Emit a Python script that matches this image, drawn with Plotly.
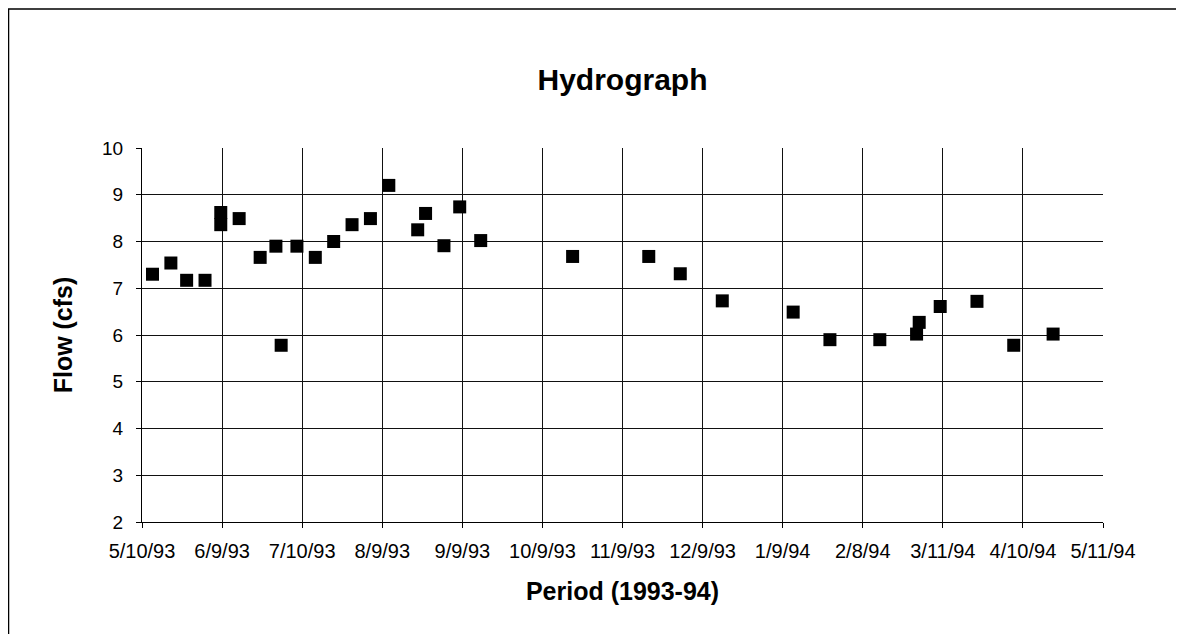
import plotly.graph_objects as go
import pandas as pd

# sample dates and measured flow
dates = ["1993-05-14", "1993-05-21", "1993-05-27", "1993-06-03", "1993-06-09", "1993-06-09",
         "1993-06-16", "1993-06-24", "1993-06-30", "1993-07-02", "1993-07-08", "1993-07-15",
         "1993-07-22", "1993-07-29", "1993-08-05", "1993-08-12", "1993-08-23", "1993-08-26",
         "1993-09-02", "1993-09-08", "1993-09-16", "1993-10-21", "1993-11-19", "1993-12-01",
         "1993-12-17", "1994-01-13", "1994-01-27", "1994-02-15", "1994-03-01", "1994-03-02",
         "1994-03-10", "1994-03-24", "1994-04-07", "1994-04-22"]
flow = [7.30, 7.54, 7.17, 7.17, 8.62, 8.36,
        8.49, 7.66, 7.90, 5.78, 7.90, 7.66,
        8.00, 8.36, 8.49, 9.20, 8.25, 8.60,
        7.91, 8.74, 8.02, 7.68, 7.68, 7.31,
        6.73, 6.49, 5.90, 5.90, 6.02, 6.27,
        6.61, 6.72, 5.78, 6.02]

tick_labels = ["5/10/93", "6/9/93", "7/10/93", "8/9/93", "9/9/93", "10/9/93", "11/9/93",
               "12/9/93", "1/9/94", "2/8/94", "3/11/94", "4/10/94", "5/11/94"]

# excel style date axis: start 5/10/93, major unit 30.5 days
start = pd.Timestamp("1993-05-10")
tick_vals = [start + pd.Timedelta(days=30.5 * k) for k in range(len(tick_labels))]

font = "Liberation Sans, Arial, sans-serif"

fig = go.Figure(go.Scatter(
    x=pd.to_datetime(dates), y=flow,
    mode="markers",
    marker=dict(symbol="square", size=13, color="black"),
    showlegend=False
))

# page body has an 8px margin, so the margins are shifted by that
fig.update_layout(
    width=1184, height=634,
    margin=dict(l=134, r=89, t=140, b=120),
    paper_bgcolor="white", plot_bgcolor="white",
    font=dict(family=font, color="black"),
    title=dict(text="<b>Hydrograph</b>", x=0.5, xref="paper", xanchor="center",
               y=0.887, yanchor="middle", font=dict(size=30, family=font)),
    xaxis=dict(
        range=[tick_vals[0], tick_vals[-1]],
        tickvals=tick_vals, ticktext=tick_labels,
        showgrid=True, gridcolor="#111", gridwidth=1,
        showline=True, linecolor="black", linewidth=1,
        ticks="outside", ticklen=5, tickcolor="black",
        tickfont=dict(size=20), zeroline=False, ticklabelstandoff=6,
        title=dict(text="<b>Period (1993-94)</b>", font=dict(size=25), standoff=21),
    ),
    yaxis=dict(
        range=[2, 10], dtick=1,
        showgrid=True, gridcolor="#111", gridwidth=1,
        showline=True, linecolor="black", linewidth=1,
        ticks="outside", ticklen=5, tickcolor="black",
        tickfont=dict(size=19), zeroline=False, ticklabelstandoff=9,
        title=dict(text="<b>Flow (cfs)</b>", font=dict(size=25), standoff=22),
    ),
    shapes=[dict(type="rect", xref="paper", yref="paper",
                 x0=-0.1389, x1=1.0975, y0=-0.3422, y1=1.3717,
                 line=dict(color="black", width=1.5), layer="below")],
)

fig.write_html("out.html")
